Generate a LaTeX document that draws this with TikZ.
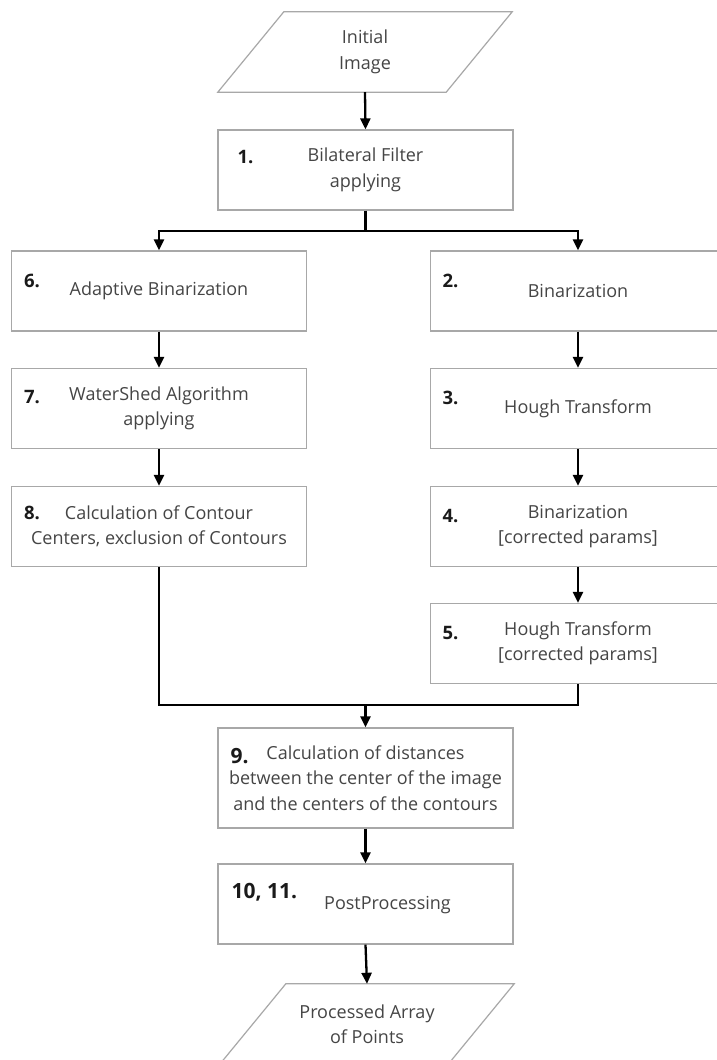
\documentclass[tikz,border=0pt]{standalone}
\usepackage{fontspec}
\setmainfont{Open Sans}
\usetikzlibrary{arrows.meta,calc}
\definecolor{boxline}{HTML}{A8A8A8}
\definecolor{bodytxt}{HTML}{454545}
\definecolor{numtxt}{HTML}{1A1A1A}
\tikzset{
  stepbox/.style={draw=boxline,line width=1.2pt,fill=white,minimum width=295pt,minimum height=80pt,inner sep=0pt,
    text=bodytxt,align=center,font=\fontsize{18}{25.5}\selectfont},
  iobox/.style={minimum width=294pt,minimum height=80pt,inner sep=0pt,text=bodytxt,align=center,font=\fontsize{18}{25.5}\selectfont},
  numlbl/.style={anchor=west,inner sep=0pt,text=numtxt,font=\fontsize{18.5}{20}\selectfont\bfseries},
  bignum/.style={numlbl,font=\fontsize{21}{22}\selectfont\bfseries},
  conn/.style={line width=2.3pt,draw=black},
  arr/.style={conn,-{Triangle[length=11pt,width=10pt]}},
  para/.style={draw=boxline,line width=1.2pt,line join=miter}
}
\begin{document}
\begin{tikzpicture}[x=1pt,y=-1pt]
\useasboundingbox[fill=white] (0,0) rectangle (716,1060);

% input parallelogram
\node[iobox] (in) at (365,52) {Initial\\Image};
\draw[para] ($(in.north west)+(66,0)$) -- (in.north east) -- ($(in.south east)+(-66,0)$) -- (in.south west) -- cycle;

% boxes
\node[stepbox] (b1) at (365.5,170) {Bilateral Filter\\applying};
\node[stepbox] (b6) at (159,291) {Adaptive Binarization};
\node[stepbox] (b7) at (159,408.5) {WaterShed Algorithm\\applying};
\node[stepbox] (b8) at (159,526.5) {Calculation of Contour\\Centers, exclusion of Contours};
\node[stepbox] (b2) at (578,291) {Binarization};
\node[stepbox] (b3) at (578,408.5) {Hough Transform};
\node[stepbox] (b4) at (578,526.5) {Binarization\\{[corrected params]}};
\node[stepbox] (b5) at (578,643.5) {Hough Transform\\{[corrected params]}};
\node[stepbox,minimum height=100pt] (b9) at (365.5,778) {Calculation of distances\\between the center of the image\\and the centers of the contours};
\node[stepbox] (b10) at (365.5,904) {};
\node[inner sep=0pt,text=bodytxt,font=\fontsize{18}{25}\selectfont] (t10) at (387.5,905) {PostProcessing};

% output parallelogram
\node[iobox] (out) at (367,1024) {Processed Array\\of Points};
\draw[para] ($(out.north west)+(66,0)$) -- (out.north east) -- ($(out.south east)+(-66,0)$) -- (out.south west) -- cycle;

% number labels
\node[numlbl] (n1) at ($(b1.north west)+(20,28)$) {1.};
\node[numlbl] (n6) at ($(b6.north west)+(13,31)$) {6.};
\node[numlbl] (n7) at ($(b7.north west)+(13,29)$) {7.};
\node[numlbl] (n8) at ($(b8.north west)+(13,27)$) {8.};
\node[numlbl] (n2) at ($(b2.north west)+(12.5,31)$) {2.};
\node[numlbl] (n3) at ($(b3.north west)+(12.5,30)$) {3.};
\node[numlbl] (n4) at ($(b4.north west)+(12.5,30)$) {4.};
\node[numlbl] (n5) at ($(b5.north west)+(12.5,30)$) {5.};
\node[bignum] (n9) at ($(b9.north west)+(13,29)$) {9.};
\node[bignum] (n10) at ($(b10.north west)+(14,29)$) {10, 11.};

% connectors
\coordinate (s1) at (365.5,231);
\coordinate (m1) at (365.5,705);
\draw[arr] (in.south) -- (b1.north);
\draw[conn] (b1.south) -- (s1);
\draw[arr] (s1) -| (b6.north);
\draw[arr] (s1) -| (b2.north);
\draw[arr] (b6.south) -- (b7.north);
\draw[arr] (b7.south) -- (b8.north);
\draw[arr] (b2.south) -- (b3.north);
\draw[arr] (b3.south) -- (b4.north);
\draw[arr] (b4.south) -- (b5.north);
\draw[conn] (b8.south) |- (m1);
\draw[conn] (b5.south) |- (m1);
\draw[arr] (m1) -- (b9.north);
\draw[arr] (b9.south) -- (b10.north);
\draw[arr] (b10.south) -- (out.north);
\end{tikzpicture}
\end{document}
